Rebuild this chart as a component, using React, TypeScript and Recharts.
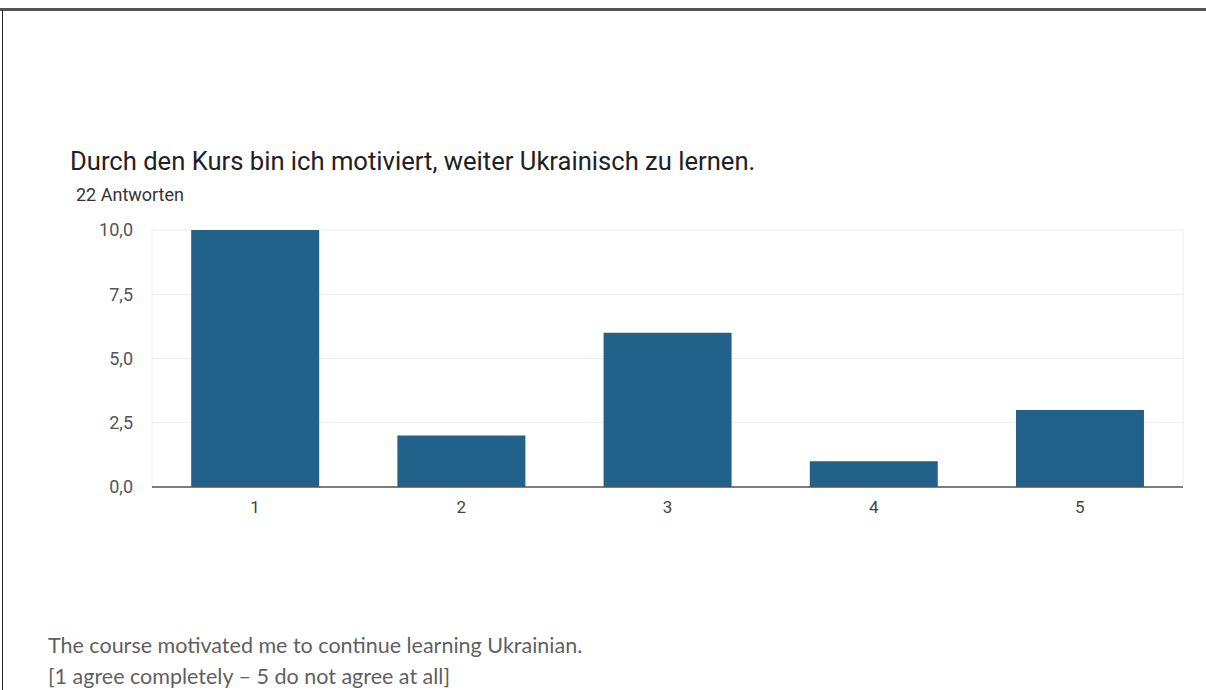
import { BarChart, Bar, XAxis, YAxis, CartesianGrid } from "recharts";

const categories = ["1", "2", "3", "4", "5"];
const counts = [10, 2, 6, 1, 3];
const yTicks = [0, 2.5, 5, 7.5, 10];

const data = categories.map((c, i) => ({ key: c, count: counts[i] }));

const fmt = (v: number) => v.toFixed(1).replace(".", ",");

export default function App() {
  return (
    <div style={{ position: "absolute", left: 0, top: 0, width: 1206, height: 690, background: "#fff", overflow: "hidden" }}>
      {/* screenshot frame */}
      <div style={{ position: "absolute", left: 0, top: 8, width: 1206, height: 3, background: "#555" }} />
      <div style={{ position: "absolute", left: 2, top: 10, width: 1, height: 680, background: "#222" }} />

      <div style={{ position: "absolute", left: 70, top: 145, fontFamily: "Roboto, sans-serif", fontSize: 25.6, color: "#202124", lineHeight: "32px" }}>
        Durch den Kurs bin ich motiviert, weiter Ukrainisch zu lernen.
      </div>
      <div style={{ position: "absolute", left: 76, top: 184, fontFamily: "Roboto, sans-serif", fontSize: 18, color: "#333", lineHeight: "22px" }}>
        22 Antworten
      </div>

      <div style={{ position: "absolute", left: 0, top: 200 }}>
        <BarChart width={1206} height={330} data={data} margin={{ top: 30, right: 23, bottom: 0, left: 0 }} barCategoryGap="19%">
          <CartesianGrid
            stroke="#ebebeb"
            verticalCoordinatesGenerator={({ offset }: any) => [offset.left, offset.left + offset.width]}
          />
          <XAxis
            dataKey="key"
            height={43}
            tickLine={false}
            tickSize={0}
            tickMargin={14}
            axisLine={{ stroke: "#555", strokeWidth: 1.5 }}
            tick={{ fontSize: 17, fill: "#444", fontFamily: "Roboto, sans-serif" }}
          />
          <YAxis
            width={152}
            domain={[0, 10]}
            ticks={yTicks}
            tickFormatter={fmt}
            tickLine={false}
            axisLine={false}
            tickSize={0}
            tickMargin={19}
            tick={{ fontSize: 18, fill: "#555", fontFamily: "Roboto, sans-serif" }}
          />
          <Bar dataKey="count" fill="#22618a" isAnimationActive={false} />
        </BarChart>
      </div>

      <div style={{ position: "absolute", left: 48, top: 630, fontFamily: "Lato, 'Open Sans', sans-serif", fontSize: 21.5, color: "#5f5f5f", lineHeight: "31px" }}>
        <div>The course motivated me to continue learning Ukrainian.</div>
        <div>[1 agree completely – 5 do not agree at all]</div>
      </div>
    </div>
  );
}
